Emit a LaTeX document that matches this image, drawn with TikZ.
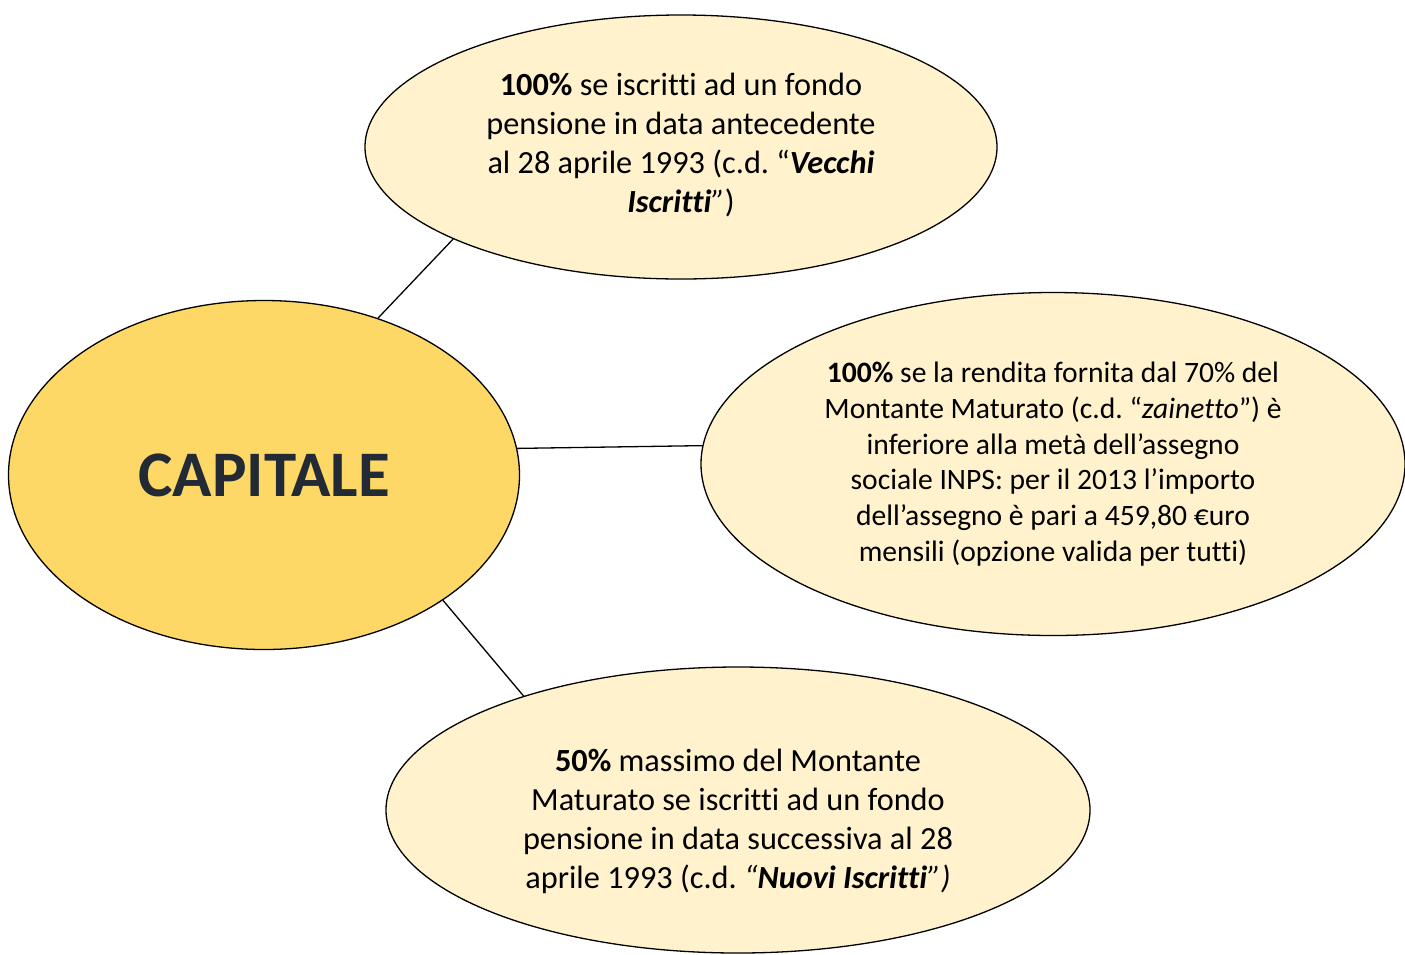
\documentclass[tikz,border=0pt]{standalone}
\usepackage{fontspec}
\setmainfont{Carlito}[Ligatures={NoCommon}]
\usetikzlibrary{shapes.geometric}
\definecolor{capfill}{HTML}{FDD866}
\definecolor{capText}{HTML}{222A35}
\definecolor{lightfill}{HTML}{FFF2CC}
\frenchspacing
\begin{document}
\begin{tikzpicture}[x=1pt,y=-1pt,
  bubble/.style={ellipse, draw=black, line width=1.3pt, fill=lightfill, inner sep=0pt, align=center, text=black},
  conn/.style={draw=black, line width=1.3pt}]
\useasboundingbox (0,0) rectangle (1405,954);
\begin{scope}
\clip (0,0) rectangle (1405,954);
\node[ellipse, draw=black, line width=1.3pt, fill=capfill, inner sep=0pt, minimum width=511pt, minimum height=349pt,
  font=\fontsize{65}{78}\selectfont\bfseries, text=capText] (cap) at (264,475) {CAPITALE};
\node[bubble, minimum width=632pt, minimum height=264pt, font=\fontsize{32.3}{39}\selectfont] (top) at (681,147)
  {\textbf{100\%} se iscritti ad un fondo\\pensione in data antecedente\\al 28 aprile 1993 (c.d. “\textbf{\textit{Vecchi}}\\\textbf{\textit{Iscritti}}\textit{”})\\[-30pt]\mbox{}};
\node[bubble, minimum width=704pt, minimum height=343pt, font=\fontsize{29.6}{35.8}\selectfont] (right) at (1053,464)
  {\textbf{100\%} se la rendita fornita dal 70\% del\\Montante Maturato (c.d. “\textit{zainetto}”) è\\inferiore alla metà dell’assegno\\sociale INPS: per il 2013 l’importo\\dell’assegno è pari a 459,80 €uro\\mensili (opzione valida per tutti)};
\node[bubble, minimum width=704pt, minimum height=286pt, font=\fontsize{32.3}{39}\selectfont] (bot) at (738,810)
  {\\[6pt]\textbf{50\%} massimo del Montante\\Maturato se iscritti ad un fondo\\pensione in data successiva al 28\\aprile 1993 (c.d. \textit{“\textbf{Nuovi Iscritti}”)}};
\end{scope}
\draw[conn] (cap.54) -- (top.202);
\draw[conn] (cap.6) -- (right.177);
\draw[conn] (cap.-35) -- (bot.152);
\end{tikzpicture}
\end{document}
